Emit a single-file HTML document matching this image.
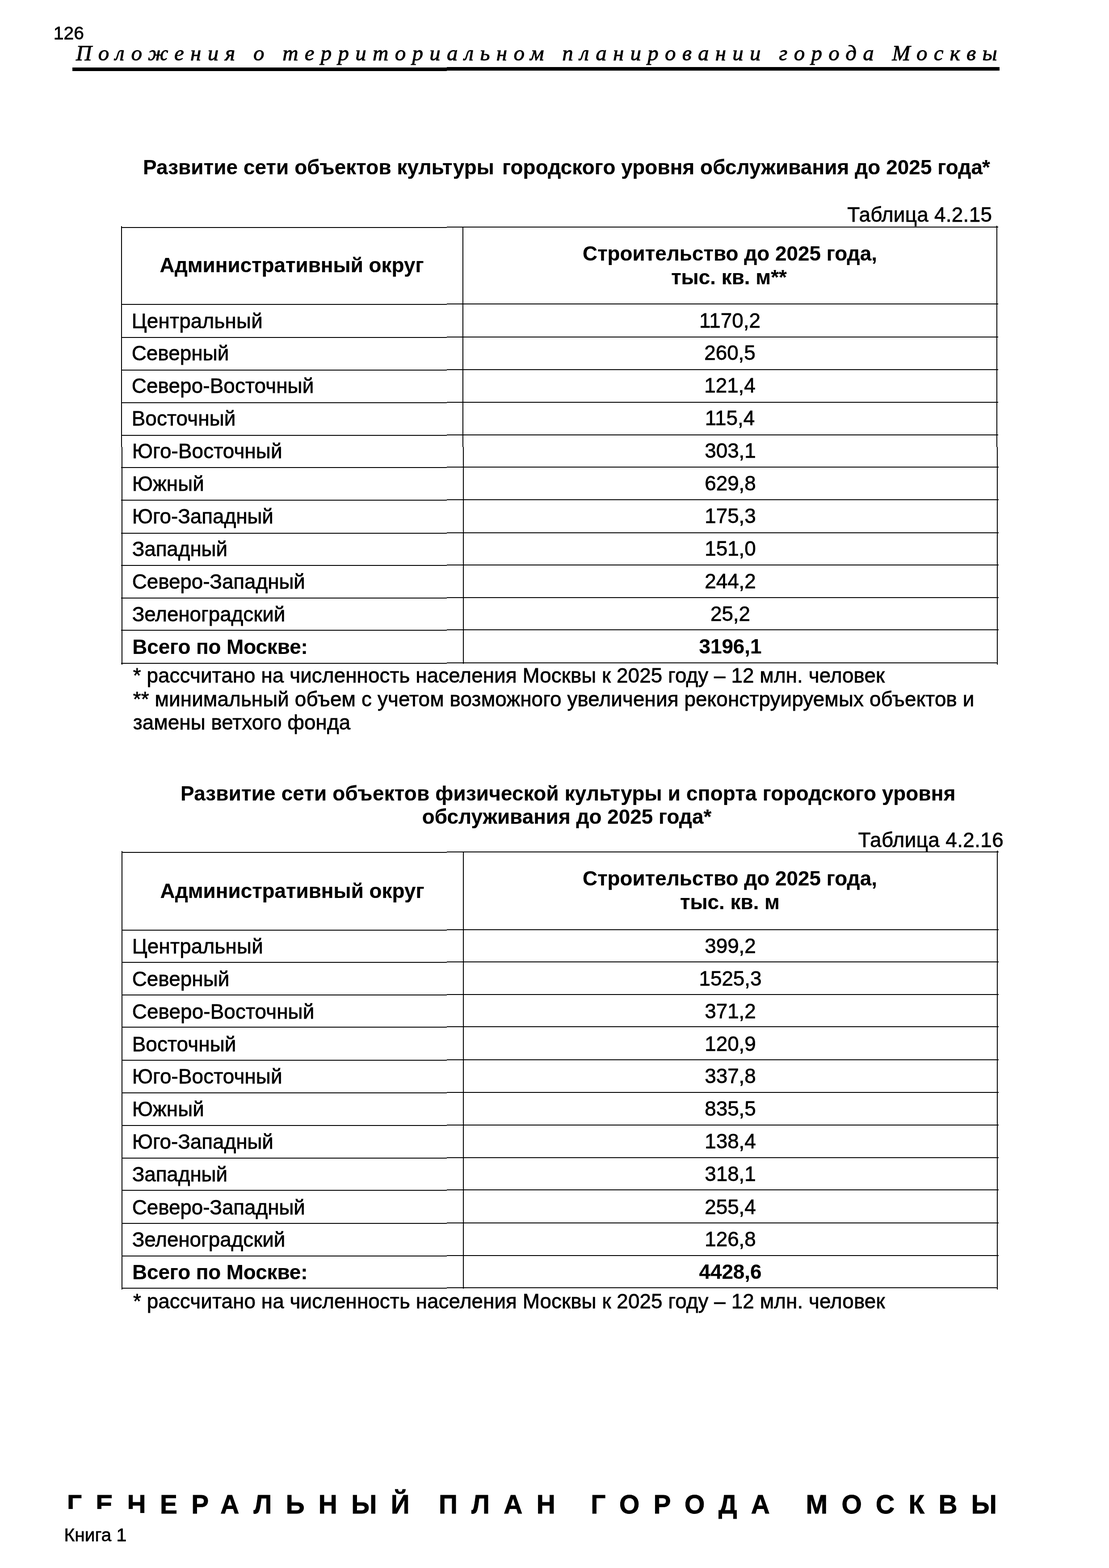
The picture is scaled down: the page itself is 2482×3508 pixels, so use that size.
<!DOCTYPE html>
<html lang="ru"><head><meta charset="utf-8"><title>Положения о территориальном планировании города Москвы</title>
<style>
html,body{margin:0;padding:0;background:#fff}
body{width:2482px;height:3508px;overflow:hidden;font-family:"Liberation Sans", sans-serif;color:#000}
.page{position:relative;width:2482px;height:3508px;overflow:hidden;background:#fff}
.t{position:absolute;white-space:pre;line-height:1;margin:0;-webkit-text-stroke:0.8px #000}
.b{font-weight:bold;-webkit-text-stroke-width:0.2px}
.r{position:absolute;background:#000}
.hd{font-family:"Liberation Serif", serif;-webkit-text-stroke-width:1.0px}
.ft{word-spacing:-3.7px;-webkit-text-stroke-width:0.9px}
</style></head>
<body>
<div class="page">
<div class="t" style="top:54.06px;font-size:40.8px;left:119.80px">126</div>
<div class="t hd" style="top:93.56px;font-size:49px;font-style:italic;letter-spacing:14.25px;left:170.00px">Положения о территориальном планировании города Москвы</div>
<div class="r" style="left:162px;top:151px;width:838px;height:8px"></div>
<div class="r" style="left:1000px;top:150px;width:1237px;height:8px"></div>
<div class="t b" style="top:352.10px;font-size:45.83px;letter-spacing:0.113px;left:268.01px;width:2000px;text-align:center">Развитие сети объектов культуры <span style="margin-left:5px;letter-spacing:0.09px">городского уровня обслуживания до 2025 года<span style="margin-left:-1px">*</span></span></div>
<div class="t" style="top:458.40px;font-size:45.83px;letter-spacing:0.285px;right:261.82px;text-align:right">Таблица 4.2.15</div>
<div class="r" style="left:271px;top:508px;width:729px;height:2px"></div>
<div class="r" style="left:1000px;top:507px;width:1234px;height:2px"></div>
<div class="r" style="left:271px;top:680px;width:729px;height:2px"></div>
<div class="r" style="left:1000px;top:679px;width:1234px;height:2px"></div>
<div class="r" style="left:271px;top:754px;width:729px;height:2px"></div>
<div class="r" style="left:1000px;top:753px;width:1234px;height:2px"></div>
<div class="r" style="left:271px;top:827px;width:729px;height:2px"></div>
<div class="r" style="left:1000px;top:826px;width:1234px;height:2px"></div>
<div class="r" style="left:271px;top:900px;width:729px;height:2px"></div>
<div class="r" style="left:1000px;top:899px;width:1234px;height:2px"></div>
<div class="r" style="left:271px;top:973px;width:729px;height:2px"></div>
<div class="r" style="left:1000px;top:972px;width:1234px;height:2px"></div>
<div class="r" style="left:271px;top:1045px;width:729px;height:2px"></div>
<div class="r" style="left:1000px;top:1044px;width:1235px;height:2px"></div>
<div class="r" style="left:271px;top:1118px;width:729px;height:2px"></div>
<div class="r" style="left:1000px;top:1117px;width:1235px;height:2px"></div>
<div class="r" style="left:271px;top:1192px;width:729px;height:2px"></div>
<div class="r" style="left:1000px;top:1191px;width:1235px;height:2px"></div>
<div class="r" style="left:271px;top:1264px;width:729px;height:2px"></div>
<div class="r" style="left:1000px;top:1263px;width:1235px;height:2px"></div>
<div class="r" style="left:271px;top:1337px;width:729px;height:2px"></div>
<div class="r" style="left:1000px;top:1336px;width:1235px;height:2px"></div>
<div class="r" style="left:271px;top:1409px;width:729px;height:2px"></div>
<div class="r" style="left:1000px;top:1408px;width:1235px;height:2px"></div>
<div class="r" style="left:271px;top:1483px;width:729px;height:2px"></div>
<div class="r" style="left:1000px;top:1482px;width:1233px;height:2px"></div>
<div class="r" style="left:271px;top:506px;width:2px;height:494px"></div>
<div class="r" style="left:272px;top:1000px;width:2px;height:487px"></div>
<div class="r" style="left:1035px;top:507px;width:2px;height:493px"></div>
<div class="r" style="left:1036px;top:1000px;width:2px;height:485px"></div>
<div class="r" style="left:2230px;top:505px;width:2px;height:495px"></div>
<div class="r" style="left:2231px;top:1000px;width:2px;height:487px"></div>
<div class="t b" style="top:571.20px;font-size:45.83px;left:-347.00px;width:2000px;text-align:center">Административный округ</div>
<div class="t b" style="top:545.20px;font-size:45.83px;left:633.50px;width:2000px;text-align:center">Строительство до 2025 года,</div>
<div class="t b" style="top:597.50px;font-size:45.83px;left:631.50px;width:2000px;text-align:center">тыс. кв. м**</div>
<div class="t" style="top:696.20px;font-size:45.83px;letter-spacing:0.2px;left:294.70px">Центральный</div>
<div class="t" style="top:695.40px;font-size:45.83px;left:633.50px;width:2000px;text-align:center">1170,2</div>
<div class="t" style="top:768.20px;font-size:45.83px;letter-spacing:0.05px;left:294.70px">Северный</div>
<div class="t" style="top:767.40px;font-size:45.83px;left:633.50px;width:2000px;text-align:center">260,5</div>
<div class="t" style="top:841.20px;font-size:45.83px;letter-spacing:0.12px;left:294.70px">Северо-Восточный</div>
<div class="t" style="top:840.40px;font-size:45.83px;left:633.50px;width:2000px;text-align:center">121,4</div>
<div class="t" style="top:914.20px;font-size:45.83px;letter-spacing:0.12px;left:294.70px">Восточный</div>
<div class="t" style="top:913.40px;font-size:45.83px;left:633.50px;width:2000px;text-align:center">115,4</div>
<div class="t" style="top:987.20px;font-size:45.83px;letter-spacing:0.12px;left:295.70px">Юго-Восточный</div>
<div class="t" style="top:986.40px;font-size:45.83px;left:634.50px;width:2000px;text-align:center">303,1</div>
<div class="t" style="top:1060.20px;font-size:45.83px;letter-spacing:0.1px;left:295.70px">Южный</div>
<div class="t" style="top:1059.40px;font-size:45.83px;left:634.50px;width:2000px;text-align:center">629,8</div>
<div class="t" style="top:1133.20px;font-size:45.83px;letter-spacing:-0.05px;left:295.70px">Юго-Западный</div>
<div class="t" style="top:1132.40px;font-size:45.83px;left:634.50px;width:2000px;text-align:center">175,3</div>
<div class="t" style="top:1206.20px;font-size:45.83px;letter-spacing:-0.1px;left:295.70px">Западный</div>
<div class="t" style="top:1205.40px;font-size:45.83px;left:634.50px;width:2000px;text-align:center">151,0</div>
<div class="t" style="top:1279.20px;font-size:45.83px;letter-spacing:-0.07px;left:295.70px">Северо-Западный</div>
<div class="t" style="top:1278.40px;font-size:45.83px;left:634.50px;width:2000px;text-align:center">244,2</div>
<div class="t" style="top:1352.20px;font-size:45.83px;letter-spacing:-0.05px;left:295.70px">Зеленоградский</div>
<div class="t" style="top:1351.40px;font-size:45.83px;left:634.50px;width:2000px;text-align:center">25,2</div>
<div class="t b" style="top:1425.20px;font-size:45.83px;letter-spacing:-0.1px;left:296.30px">Всего по Москве:</div>
<div class="t b" style="top:1424.40px;font-size:45.83px;left:634.50px;width:2000px;text-align:center">3196,1</div>
<div class="t" style="top:1489.20px;font-size:45.83px;letter-spacing:0.074px;left:297.70px">* рассчитано на численность населения Москвы к 2025 году – 12 млн. человек</div>
<div class="t" style="top:1542.20px;font-size:45.83px;letter-spacing:0.104px;left:297.70px">** минимальный объем с учетом возможного увеличения реконструируемых объектов и</div>
<div class="t" style="top:1594.20px;font-size:45.83px;letter-spacing:0.037px;left:297.70px">замены ветхого фонда</div>
<div class="t b" style="top:1752.70px;font-size:45.83px;letter-spacing:0.187px;left:271.34px;width:2000px;text-align:center">Развитие сети объектов физической культуры и спорта городского уровня</div>
<div class="t b" style="top:1805.20px;font-size:45.83px;left:268.50px;width:2000px;text-align:center">обслуживания до 2025 года*</div>
<div class="t" style="top:1857.00px;font-size:45.83px;letter-spacing:0.39px;right:235.91px;text-align:right">Таблица 4.2.16</div>
<div class="r" style="left:272px;top:1906px;width:728px;height:2px"></div>
<div class="r" style="left:1000px;top:1905px;width:1235px;height:2px"></div>
<div class="r" style="left:272px;top:2080px;width:728px;height:2px"></div>
<div class="r" style="left:1000px;top:2079px;width:1235px;height:2px"></div>
<div class="r" style="left:272px;top:2152px;width:728px;height:2px"></div>
<div class="r" style="left:1000px;top:2151px;width:1235px;height:2px"></div>
<div class="r" style="left:272px;top:2225px;width:728px;height:2px"></div>
<div class="r" style="left:1000px;top:2224px;width:1235px;height:2px"></div>
<div class="r" style="left:272px;top:2297px;width:728px;height:2px"></div>
<div class="r" style="left:1000px;top:2296px;width:1235px;height:2px"></div>
<div class="r" style="left:272px;top:2371px;width:728px;height:2px"></div>
<div class="r" style="left:1000px;top:2370px;width:1235px;height:2px"></div>
<div class="r" style="left:272px;top:2444px;width:728px;height:2px"></div>
<div class="r" style="left:1000px;top:2443px;width:1235px;height:2px"></div>
<div class="r" style="left:272px;top:2517px;width:728px;height:2px"></div>
<div class="r" style="left:1000px;top:2516px;width:1235px;height:2px"></div>
<div class="r" style="left:272px;top:2590px;width:728px;height:2px"></div>
<div class="r" style="left:1000px;top:2589px;width:1235px;height:2px"></div>
<div class="r" style="left:272px;top:2662px;width:728px;height:2px"></div>
<div class="r" style="left:1000px;top:2661px;width:1235px;height:2px"></div>
<div class="r" style="left:272px;top:2736px;width:728px;height:2px"></div>
<div class="r" style="left:1000px;top:2735px;width:1235px;height:2px"></div>
<div class="r" style="left:272px;top:2809px;width:728px;height:2px"></div>
<div class="r" style="left:1000px;top:2808px;width:1235px;height:2px"></div>
<div class="r" style="left:272px;top:2881px;width:728px;height:2px"></div>
<div class="r" style="left:1000px;top:2880px;width:1233px;height:2px"></div>
<div class="r" style="left:272px;top:1904px;width:2px;height:981px"></div>
<div class="r" style="left:1036px;top:1905px;width:2px;height:978px"></div>
<div class="r" style="left:2231px;top:1903px;width:2px;height:982px"></div>
<div class="t b" style="top:1971.20px;font-size:45.83px;left:-346.00px;width:2000px;text-align:center">Административный округ</div>
<div class="t b" style="top:1943.40px;font-size:45.83px;left:633.50px;width:2000px;text-align:center">Строительство до 2025 года,</div>
<div class="t b" style="top:1996.40px;font-size:45.83px;left:633.50px;width:2000px;text-align:center">тыс. кв. м</div>
<div class="t" style="top:2095.20px;font-size:45.83px;letter-spacing:0.2px;left:295.70px">Центральный</div>
<div class="t" style="top:2094.20px;font-size:45.83px;left:634.50px;width:2000px;text-align:center">399,2</div>
<div class="t" style="top:2168.20px;font-size:45.83px;letter-spacing:0.05px;left:295.70px">Северный</div>
<div class="t" style="top:2167.20px;font-size:45.83px;left:634.50px;width:2000px;text-align:center">1525,3</div>
<div class="t" style="top:2240.50px;font-size:45.83px;letter-spacing:0.12px;left:295.70px">Северо-Восточный</div>
<div class="t" style="top:2239.50px;font-size:45.83px;left:634.50px;width:2000px;text-align:center">371,2</div>
<div class="t" style="top:2313.50px;font-size:45.83px;letter-spacing:0.12px;left:295.70px">Восточный</div>
<div class="t" style="top:2312.50px;font-size:45.83px;left:634.50px;width:2000px;text-align:center">120,9</div>
<div class="t" style="top:2386.20px;font-size:45.83px;letter-spacing:0.12px;left:295.70px">Юго-Восточный</div>
<div class="t" style="top:2385.20px;font-size:45.83px;left:634.50px;width:2000px;text-align:center">337,8</div>
<div class="t" style="top:2458.70px;font-size:45.83px;letter-spacing:0.1px;left:295.70px">Южный</div>
<div class="t" style="top:2457.70px;font-size:45.83px;left:634.50px;width:2000px;text-align:center">835,5</div>
<div class="t" style="top:2532.20px;font-size:45.83px;letter-spacing:-0.05px;left:295.70px">Юго-Западный</div>
<div class="t" style="top:2531.20px;font-size:45.83px;left:634.50px;width:2000px;text-align:center">138,4</div>
<div class="t" style="top:2605.20px;font-size:45.83px;letter-spacing:-0.1px;left:295.70px">Западный</div>
<div class="t" style="top:2604.20px;font-size:45.83px;left:634.50px;width:2000px;text-align:center">318,1</div>
<div class="t" style="top:2679.20px;font-size:45.83px;letter-spacing:-0.07px;left:295.70px">Северо-Западный</div>
<div class="t" style="top:2678.20px;font-size:45.83px;left:634.50px;width:2000px;text-align:center">255,4</div>
<div class="t" style="top:2751.20px;font-size:45.83px;letter-spacing:-0.05px;left:295.70px">Зеленоградский</div>
<div class="t" style="top:2750.20px;font-size:45.83px;left:634.50px;width:2000px;text-align:center">126,8</div>
<div class="t b" style="top:2824.20px;font-size:45.83px;letter-spacing:-0.1px;left:296.00px">Всего по Москве:</div>
<div class="t b" style="top:2823.20px;font-size:45.83px;left:634.50px;width:2000px;text-align:center">4428,6</div>
<div class="t" style="top:2888.70px;font-size:45.83px;letter-spacing:0.074px;left:298.00px">* рассчитано на численность населения Москвы к 2025 году – 12 млн. человек</div>
<div class="t ft b" style="top:3337.42px;font-size:58.33px;letter-spacing:31.3px;left:150.00px">ГЕНЕРАЛЬНЫЙ <span style="margin-left:-9.85px">ПЛАН</span> <span style="margin-left:4.3px">ГОРОДА</span> <span style="margin-left:5.55px">МОСКВЫ</span></div>
<div class="r" style="left:100px;top:3376px;width:205px;height:14px;background:#fff"></div>
<div class="r" style="left:305px;top:3384.5px;width:20px;height:5px;background:#fff"></div>
<div class="t" style="top:3413.96px;font-size:40.8px;left:143.50px">Книга 1</div>
</div>
</body></html>
